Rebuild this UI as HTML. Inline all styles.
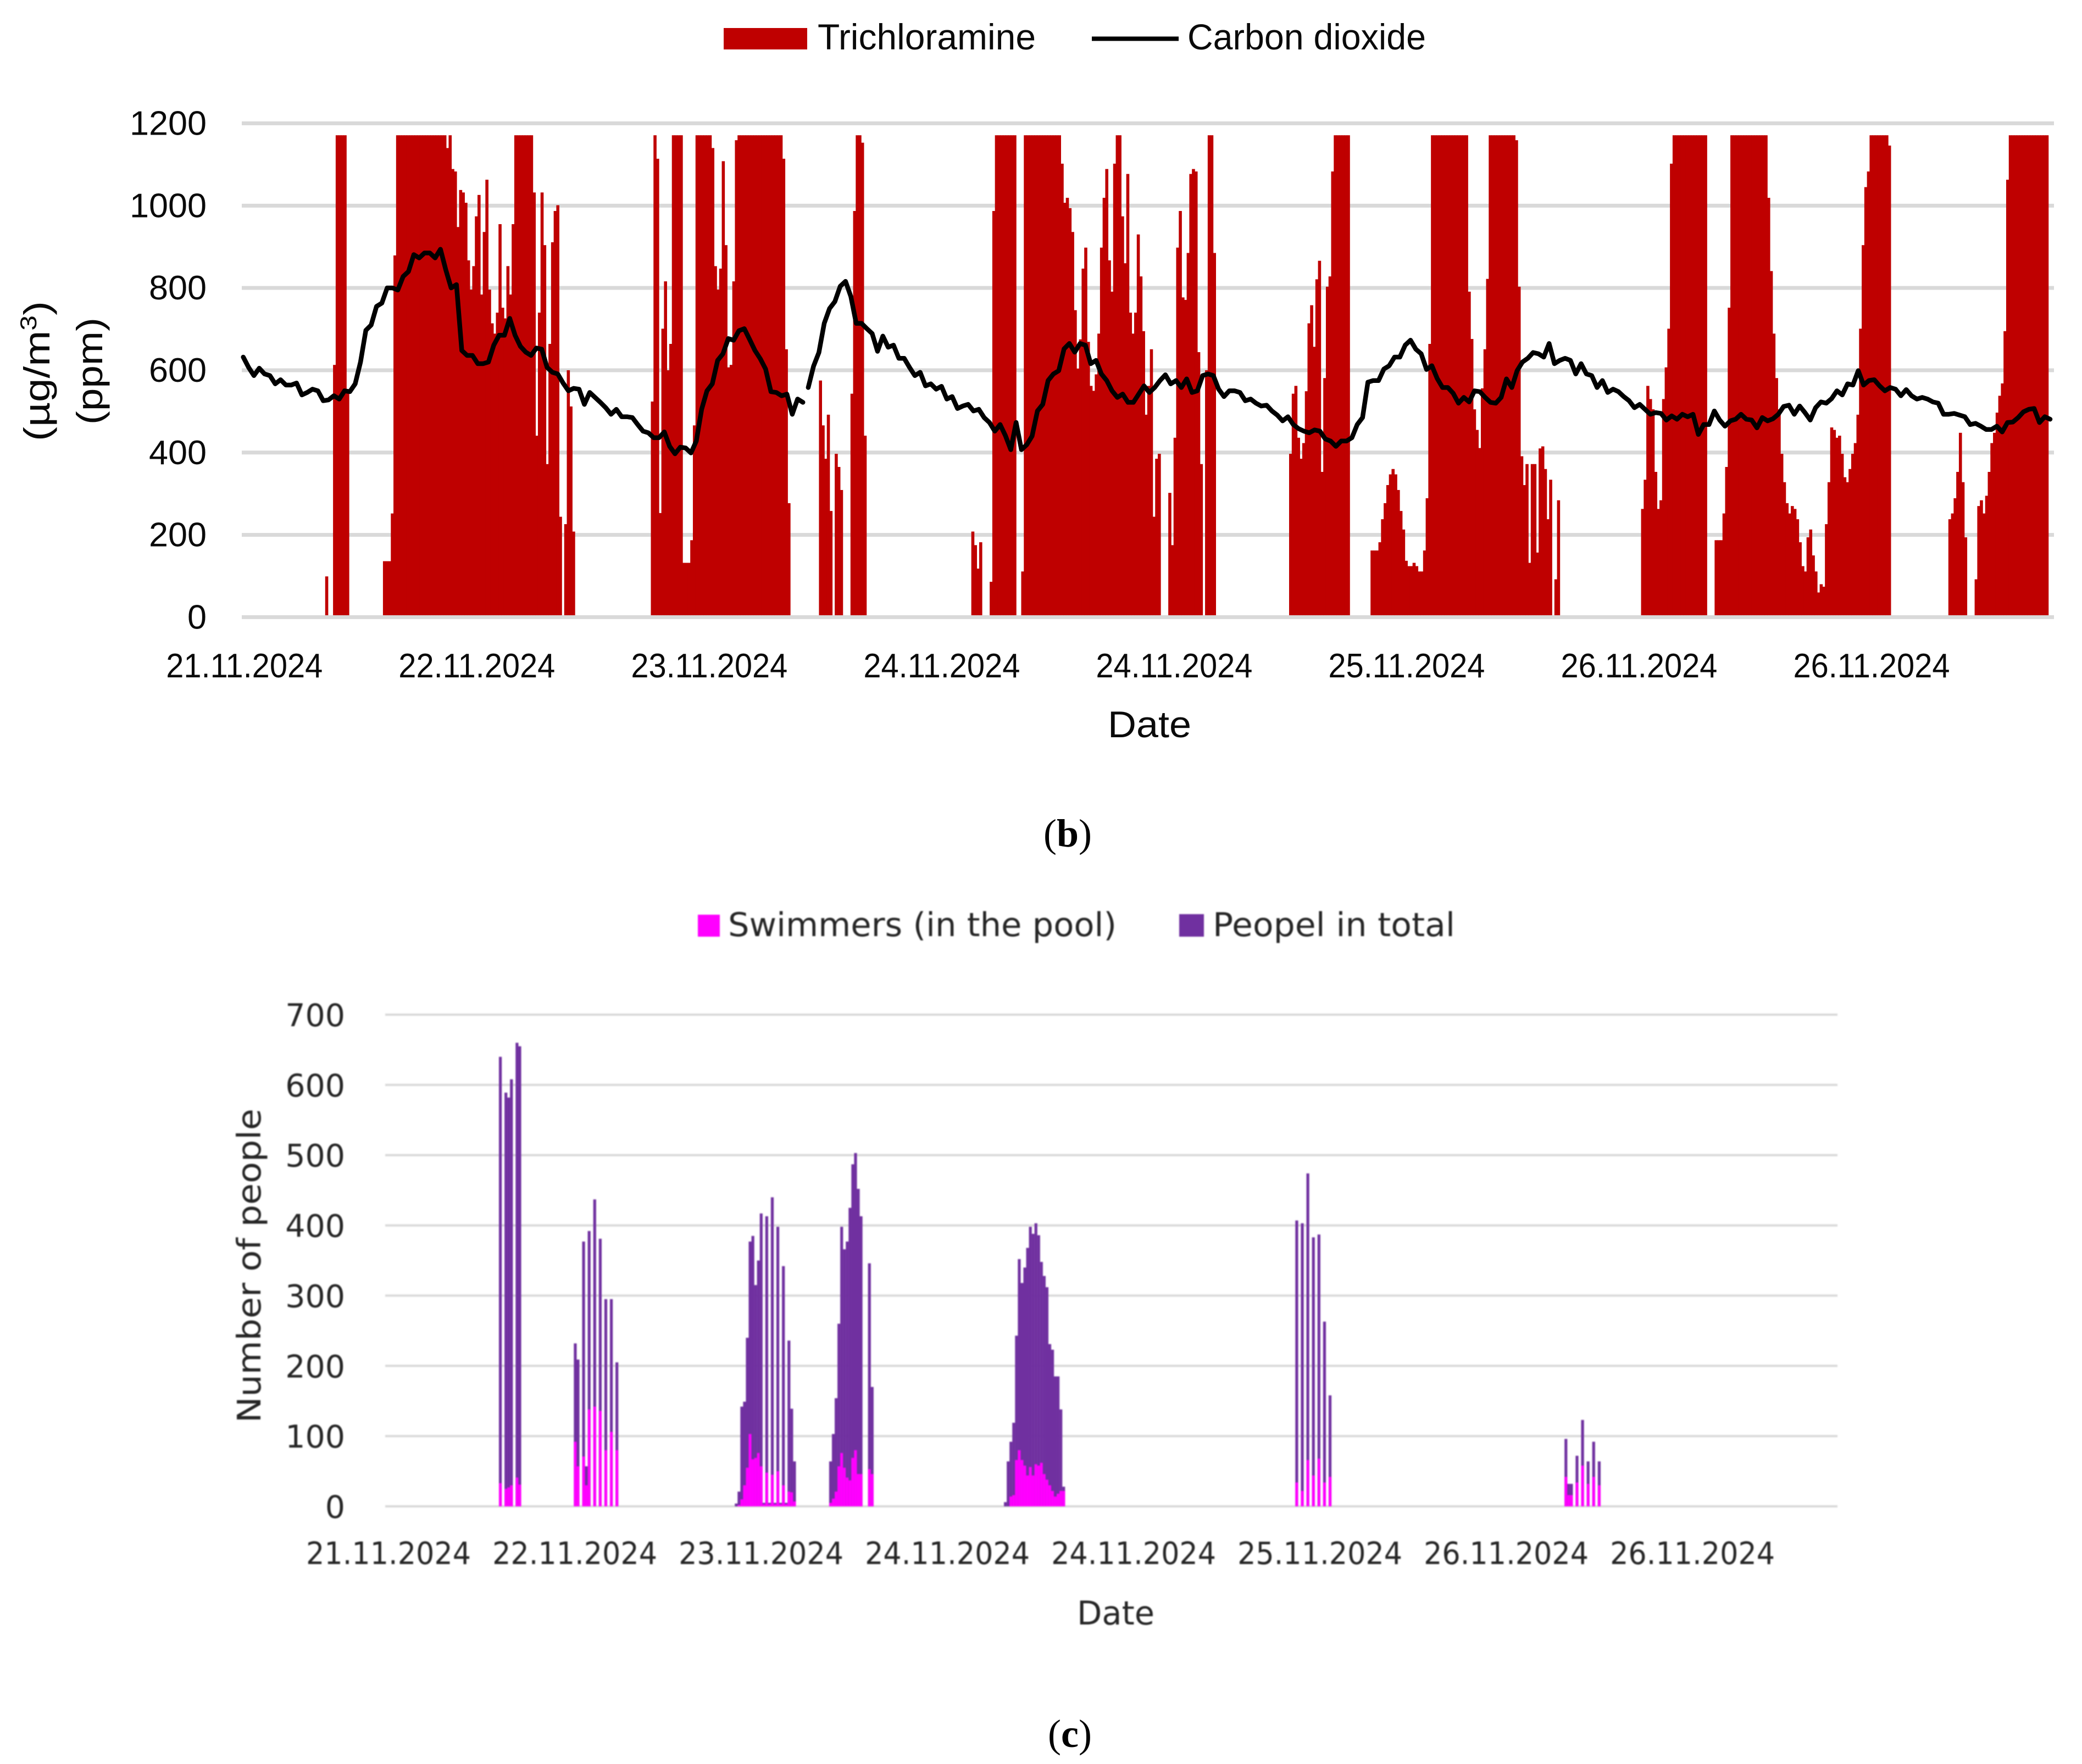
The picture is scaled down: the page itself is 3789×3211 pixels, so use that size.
<!DOCTYPE html>
<html lang="en">
<head>
<meta charset="utf-8">
<title>Trichloramine, carbon dioxide and number of people</title>
<style>
html,body{margin:0;padding:0;background:#fff;}
svg{display:block;}
.fb{font-family:"Liberation Sans",sans-serif;fill:#0a0a0a;}
.fc{font-family:"DejaVu Sans","Liberation Sans",sans-serif;fill:#262626;}
.fs{font-family:"Liberation Serif",serif;fill:#000;}
</style>
</head>
<body>
<svg id="figure" xmlns="http://www.w3.org/2000/svg" width="3789" height="3211" viewBox="0 0 3789 3211">
  <rect x="0" y="0" width="3789" height="3211" fill="#fff"/>

  <g id="chartB">
    <g>
      <rect x="1317" y="51" width="152" height="39" fill="#bf0000"/>
      <text class="fb" x="1488" y="90" font-size="66" textLength="397" lengthAdjust="spacingAndGlyphs">Trichloramine</text>
      <line x1="1987" y1="70.5" x2="2145" y2="70.5" stroke="#000" stroke-width="8"/>
      <text class="fb" x="2161" y="90" font-size="66" textLength="434" lengthAdjust="spacingAndGlyphs">Carbon dioxide</text>
    </g>
    <text class="fb" transform="translate(90,803) rotate(-90)" font-size="66" textLength="255" lengthAdjust="spacingAndGlyphs">(µg/m<tspan dy="-24" font-size="42">3</tspan><tspan dy="24">)</tspan></text>
    <text class="fb" transform="translate(186,773) rotate(-90)" font-size="66" textLength="195" lengthAdjust="spacingAndGlyphs">(ppm)</text>
    <text class="fb" x="2016" y="1342" font-size="68" textLength="152" lengthAdjust="spacingAndGlyphs">Date</text>
    <g id="gridB"></g>
    <g id="barsB"></g>
    <g id="lineB"></g>
    <g id="ticksB"></g>
  </g>

  <text class="fs" x="1943" y="1541" font-size="72" text-anchor="middle">(<tspan font-weight="bold">b</tspan>)</text>

  <g id="chartC" style="filter:blur(1.1px)">
    <g>
      <rect x="1270" y="1665" width="40" height="40" fill="#ff00ff"/>
      <text class="fc" x="1325" y="1704" font-size="60" textLength="707" lengthAdjust="spacingAndGlyphs">Swimmers (in the pool)</text>
      <rect x="2146" y="1664" width="45" height="41" fill="#7030a0"/>
      <text class="fc" x="2207" y="1704" font-size="60" textLength="441" lengthAdjust="spacingAndGlyphs">Peopel in total</text>
    </g>
    <text class="fc" transform="translate(474,2590) rotate(-90)" font-size="59" textLength="572" lengthAdjust="spacingAndGlyphs">Number of people</text>
    <text class="fc" x="1960" y="2957" font-size="60" textLength="141" lengthAdjust="spacingAndGlyphs">Date</text>
    <g id="gridC"></g>
    <g id="barsC"></g>
    <g id="ticksC"></g>
  </g>

  <text class="fs" x="1947" y="3180" font-size="72" text-anchor="middle">(<tspan font-weight="bold">c</tspan>)</text>
</svg>

<script>
/* ---------- chart (b) data ---------- */
const dateLabelsB = ["21.11.2024","22.11.2024","23.11.2024","24.11.2024","24.11.2024","25.11.2024","26.11.2024","26.11.2024"];
const ppmTicks = [0,200,400,600,800,1000,1200];
const trichloramineStarts = [32,35,54,123,156,220,232,278,285,353,399,430,533,561,650,660];
const burst01 = [99];
const burst02 = [613,1171,1171,1171,1171,545];
const burst03 = [136,136,136,252,879,1171,1171,1171,1171,1171,1171,1171,1171,1171,1171,1171,1171,1171,1171,1171,1171,1171,1171,1171,1140,1171,1089,1083,948,1038,1032,1007,867,796,853,974,1026,784,936,1063,796,714,689,740,955,752,726,853,784,955,1171,1171,1171,1171,1171,1171,1171,1032,441,740,1032,904,372,664,911,987,1001,244];
const burst04 = [226,600,512,208];
const burst05 = [524,1171,1114,253,701,816,600,664,1171,1171,1171,1171,132,132,132,187,466,1171,1171,1171,1171,1171,1171,1140,853,796,847,1108,904,607,613,816,1159,1171,1171,1171,1171,1171,1171,1171,1171,1171,1171,1171,1171,1171,1171,1171,1171,1171,1114,651,277];
const burst06 = [575,466,385,492,258,0,397,365,309];
const burst07 = [543,987,1171,1171,1153,441];
const burst08 = [208,175,118,182];
const burst09 = [86,987,1171,1171,1171,1171,1171,1171,1171,1171,0,0,111,1171,1171,1171,1171,1171,1171,1171,1171,1171,1171,1171,1171,1171,1171,1102,1007,1019,994,936,746,604,675,847,898,669,562,550,590,689,898,1019,1089,867,791,1102,1171,1171,974,860,1077,740,689,740,930,828,695,492,562,651,244,385,397];
const burst10 = [302,175,436,898,987,777,771,885,1077,1089,1083,644,372,0,600,1171,1171,885];
const burst11 = [397,543,562,436,385,423,549,714,758,657,821,866,353,581,803,828,1083,1171,1171,1171,1171,1171,1171];
const burst12 = [162,162,162,182,238,277,321,347,360,347,309,258,213,137,124,124,132,124,111,111,162,289,664,1171,1171,1171,1171,1171,1171,1171,1171,1171,1171,1171,1171,1171,1171,791,676,505,455,411,556,651,822,1171,1171,1171,1171,1171,1171,1171,1171,1171,1171,1159,803,391,321,372,132,372,372,157,410,415,360,238,334,0,92,284];
const burst13 = [263,334,562,530,505,353,263,284,530,607,701,1102,1171,1171,1171,1171,1171,1171,1171,1171,1171,1171,1171,1171,1171];
const burst14 = [187,187,187,252,365,752,1171,1171,1171,1171,1171,1171,1171,1171,1171,1171,1171,1171,1171,1171,1019,841,689,581,505,397,328,277,252,270,263,238,182,124,111,194,213,150,111,60,80,74,226,328,461,455,436,441,397,340,328,360,397,423,492,701,904,1045,1083,1171,1171,1171,1171,1171,1171,1171,1146];
const burst15 = [238,252,289,353,448,328,194];
const burst16 = [92,270,284,252,295,353,423,448,497,538,568,695,1063,1171,1171,1171,1171,1171,1171,1171,1171,1171,1171,1171,1171,1171,1171,1171];
const trichloramineBursts = [burst01,burst02,burst03,burst04,burst05,burst06,burst07,burst08,burst09,burst10,burst11,burst12,burst13,burst14,burst15,burst16];

const co2BeforeGap = [632,607,587,605,591,587,567,577,564,564,569,540,546,554,550,526,528,538,530,550,548,567,620,697,710,755,763,800,800,795,828,840,881,873,885,885,873,894,844,800,808,648,636,636,616,616,620,661,685,685,726,685,658,644,636,654,651,607,595,591,569,550,556,554,517,546,534,522,509,493,505,487,487,485,468,452,448,436,436,450,415,397,413,411,399,428,505,550,567,624,640,677,673,696,701,675,648,628,603,548,546,538,542,493,530,522];
const co2AfterGap = [558,610,643,714,750,767,804,816,779,714,714,701,689,646,683,656,661,629,629,607,587,595,562,567,554,561,530,536,507,513,517,501,505,485,473,452,468,441,407,473,407,419,440,501,517,575,591,599,652,665,644,665,661,616,624,591,575,550,534,542,522,522,542,562,546,558,575,589,567,575,558,579,546,550,587,591,587,554,536,550,550,546,526,530,520,513,515,501,491,477,487,468,458,452,448,455,452,433,428,415,428,428,436,468,485,571,575,575,603,611,632,632,661,673,651,640,602,611,580,558,558,544,520,534,523,550,548,534,522,520,534,579,558,599,620,629,643,640,632,665,616,624,629,624,591,616,591,587,558,575,546,554,548,536,526,509,517,505,493,497,495,479,489,481,493,487,493,444,468,468,501,479,464,477,481,493,481,479,460,485,477,482,493,512,515,493,513,497,479,509,523,520,531,550,540,567,564,599,564,575,577,562,550,558,554,538,553,538,530,534,530,523,520,493,493,495,491,487,468,471,464,456,456,464,450,473,474,485,499,505,507,473,487,481];

/* ---------- chart (c) data ---------- */
const dateLabelsC = ["21.11.2024","22.11.2024","23.11.2024","24.11.2024","24.11.2024","25.11.2024","26.11.2024","26.11.2024"];
const peopleTicks = [0,100,200,300,400,500,600,700];
const sessionStarts = [41,68,126,160,223,328,425];
const totalSession1 = [640,0,589,582,608,0,660,655];
const totalSession2 = [232,209,0,377,57,392,0,437,0,381,0,295,0,295,0,205];
const totalSession3 = [4,21,142,149,240,377,385,315,350,417,5,413,5,440,5,398,5,342,5,236,139,64];
const totalSession4 = [64,103,154,260,398,366,377,425,487,503,452,413,0,0,346,170];
const totalSession5 = [6,64,92,119,243,352,318,340,368,398,388,403,386,348,328,312,231,223,185,185,138,28];
const totalSession6 = [407,0,403,0,474,0,383,0,387,0,263,0,158];
const totalSession7 = [96,32,32,0,72,0,123,0,64,0,92,0,64];
const swimmersSession1 = [33,0,25,27,30,0,41,31];
const swimmersSession2 = [92,57,0,71,30,138,0,142,0,136,0,80,0,106,0,80];
const swimmersSession3 = [0,2,10,30,55,103,67,69,76,57,3,48,3,45,3,50,3,30,3,21,20,7];
const swimmersSession4 = [5,11,21,57,76,55,41,37,69,80,46,46,0,0,53,46];
const swimmersSession5 = [0,0,14,16,66,80,66,58,44,56,44,60,58,62,46,38,30,22,14,18,22,22];
const swimmersSession6 = [34,0,22,0,66,0,44,0,68,0,34,0,42];
const swimmersSession7 = [42,16,16,0,34,0,58,0,32,0,42,0,30];
const totalSessions = [totalSession1,totalSession2,totalSession3,totalSession4,totalSession5,totalSession6,totalSession7];
const swimmerSessions = [swimmersSession1,swimmersSession2,swimmersSession3,swimmersSession4,swimmersSession5,swimmersSession6,swimmersSession7];

/* ---------- scales ---------- */
const NS = "http://www.w3.org/2000/svg";
const stepB = 4.78, leftB = 440, rightB = 3738;
const xBarB = i => leftB + i * stepB - 1.2;
const xTickB = j => leftB + (0.5 + j * 88.5 + 0.5) * stepB;
const yB = v => 1123.4 - v * (898.9 / 1200);
const co2Step = (rightB - leftB) / 340;
const xCo2 = k => leftB + (k + 0.28) * co2Step;
const stepC = 5.05, leftC = 701, rightC = 3344;
const xC = i => leftC + (i + 0.5) * stepC;
const yC = v => 2742 - v * (895 / 700);

function make(tag, parentId) {
  const el = document.createElementNS(NS, tag);
  document.getElementById(parentId).appendChild(el);
  return el;
}
function setAll(el, attrs) {
  for (const k in attrs) el.setAttribute(k, attrs[k]);
}

/* ---------- chart (b) drawing ---------- */
ppmTicks.forEach(t => {
  const g = make("line", "gridB");
  
  
  setAll(g, {x1: leftB, x2: rightB, y1: yB(t), y2: yB(t), stroke: "#d9d9d9", "stroke-width": 7});
  const l = make("text", "ticksB");
  
  
  setAll(l, {class: "fb", x: 376, y: yB(t) + 21, "font-size": 62, "text-anchor": "end", textLength: String(t).length * 35, lengthAdjust: "spacingAndGlyphs"});
  l.textContent = t;
});
dateLabelsB.forEach((d, j) => {
  const l = make("text", "ticksB");
  
  
  setAll(l, {class: "fb", x: xTickB(j), y: 1233, "font-size": 62, "text-anchor": "middle", textLength: 285, lengthAdjust: "spacingAndGlyphs"});
  l.textContent = d;
});
trichloramineBursts.forEach((vals, b) => {
  vals.forEach((v, n) => {
    if (!v) return;
    const i = trichloramineStarts[b] + n;
    const r = make("rect", "barsB");
    
    
    setAll(r, {x: xBarB(i), y: yB(v), width: 5.6, height: yB(0) - 3.5 - yB(v), fill: "#bf0000"});
  });
});
function co2Path(values, firstK) {
  const p = make("path", "lineB");
  
  
  const d = values.map((v, n) => (n ? "L" : "M") + xCo2(firstK + n).toFixed(1) + " " + yB(v).toFixed(1)).join(" ");
  setAll(p, {d: d, fill: "none", stroke: "#000", "stroke-width": 8.5, "stroke-linejoin": "round", "stroke-linecap": "round"});
}
co2Path(co2BeforeGap, 0);
co2Path(co2AfterGap, co2BeforeGap.length);

/* ---------- chart (c) drawing ---------- */
peopleTicks.forEach(t => {
  const g = make("line", "gridC");
  
  
  setAll(g, {x1: leftC, x2: rightC, y1: yC(t), y2: yC(t), stroke: "#d9d9d9", "stroke-width": 4});
  const l = make("text", "ticksC");
  
  
  setAll(l, {class: "fc", x: 628, y: yC(t) + 21, "font-size": 57, "text-anchor": "end"});
  l.textContent = t;
});
dateLabelsC.forEach((d, j) => {
  const l = make("text", "ticksC");
  
  
  setAll(l, {class: "fc", x: xC(0.7 + j * 67.13), y: 2847, "font-size": 56, "text-anchor": "middle", textLength: 300, lengthAdjust: "spacingAndGlyphs"});
  l.textContent = d;
});
sessionStarts.forEach((start, s) => {
  totalSessions[s].forEach((total, n) => {
    if (!total) return;
    const i = start + n;
    const swim = swimmerSessions[s][n];
    const r = make("rect", "barsC");
    
    
    setAll(r, {x: xC(i) - 2.6, y: yC(total), width: 5.2, height: yC(0) - yC(total), fill: "#7030a0"});
    if (swim) {
      const q = make("rect", "barsC");
      
      
      setAll(q, {x: xC(i) - 2.6, y: yC(swim), width: 5.2, height: yC(0) - yC(swim), fill: "#ff00ff"});
    }
  });
});
</script>
</body>
</html>
